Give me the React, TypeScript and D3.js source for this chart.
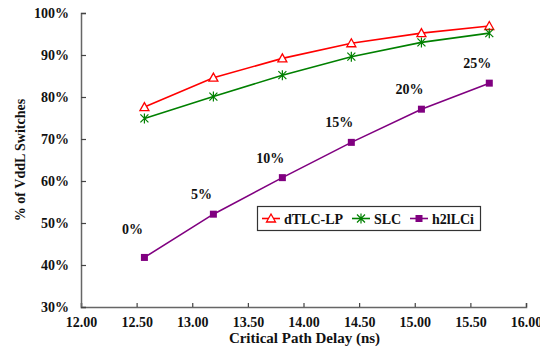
import {useEffect, useRef} from 'react';
import * as d3 from 'd3';

const delays = [12.57, 13.19, 13.81, 14.43, 15.06, 15.67];
const dtlcValues = [77.6, 84.6, 89.2, 92.8, 95.2, 96.9];
const slcValues = [74.9, 80.1, 85.2, 89.6, 93.0, 95.2];
const h2lValues = [41.8, 52.1, 60.8, 69.2, 77.1, 83.3];
const h2lLabels = ['0%', '5%', '10%', '15%', '20%', '25%'];
const xTicks = [12, 12.5, 13, 13.5, 14, 14.5, 15, 15.5, 16];
const yTicks = [30, 40, 50, 60, 70, 80, 90, 100];

const seriesNames = ['dTLC-LP', 'SLC', 'h2lLCi'];

const App = () => {
  const svgRef = useRef<SVGSVGElement | null>(null);

  useEffect(() => {
    if (!svgRef.current) return;
    const width = 540;
    const height = 347;
    const margin = {top: 13, right: 14, bottom: 40, left: 81};

    const svg = d3.select(svgRef.current);
    svg.selectAll('*').remove();

    const x = d3
      .scaleLinear()
      .domain([12, 16])
      .range([margin.left, width - margin.right]);
    const y = d3
      .scaleLinear()
      .domain([30, 100])
      .range([height - margin.bottom, margin.top]);

    // axes
    const xAxis = svg
      .append('g')
      .attr('transform', `translate(0,${height - margin.bottom})`)
      .call(
        d3
          .axisBottom(x)
          .tickValues(xTicks)
          .tickSize(-4)
          .tickPadding(10)
          .tickFormat((d) => d3.format('.2f')(d as number))
      );
    const yAxis = svg
      .append('g')
      .attr('transform', `translate(${margin.left},0)`)
      .call(
        d3
          .axisLeft(y)
          .tickValues(yTicks)
          .tickSize(-5)
          .tickPadding(12)
          .tickFormat((d) => `${d}%`)
      );
    [xAxis, yAxis].forEach((a) => {
      a.attr('font-family', null).attr('font-size', null);
      a.select('.domain').attr('stroke', '#666').attr('stroke-width', 1.5);
      a.selectAll('.tick line').attr('stroke', '#444').attr('stroke-width', 1.2);
      a.selectAll('.tick text').attr('fill', '#111');
    });

    // axis titles
    svg
      .append('text')
      .attr('x', (margin.left + width - margin.right) / 2 + 1)
      .attr('y', 343)
      .attr('text-anchor', 'middle')
      .attr('font-size', 15)
      .attr('fill', '#111')
      .text('Critical Path Delay (ns)');
    svg
      .append('text')
      .attr('transform', `translate(25,${(margin.top + height - margin.bottom) / 2}) rotate(-90)`)
      .attr('text-anchor', 'middle')
      .attr('fill', '#111')
      .text('% of VddL Switches');

    const colors = ['#ff0000', '#008000', '#800080'];
    const allValues = [dtlcValues, slcValues, h2lValues];

    const line = d3
      .line<number>()
      .x((_, i) => x(delays[i]))
      .y((d) => y(d));

    const drawMarker = (
      g: d3.Selection<SVGGElement, unknown, null, undefined>,
      kind: number,
      cx: number,
      cy: number
    ) => {
      if (kind === 0) {
        g.append('path')
          .attr('d', `M${cx},${cy - 4.5}L${cx + 4.5},${cy + 3.5}L${cx - 4.5},${cy + 3.5}Z`)
          .attr('fill', 'white')
          .attr('stroke', colors[0])
          .attr('stroke-width', 1.3);
      } else if (kind === 1) {
        const r = 4;
        g.append('path')
          .attr(
            'd',
            `M${cx - r},${cy - r}L${cx + r},${cy + r}M${cx - r},${cy + r}L${cx + r},${cy - r}M${cx},${cy - r - 1}L${cx},${cy + r + 1}`
          )
          .attr('stroke', colors[1])
          .attr('stroke-width', 1.2);
      } else {
        g.append('rect')
          .attr('x', cx - 3.5)
          .attr('y', cy - 3.5)
          .attr('width', 7)
          .attr('height', 7)
          .attr('fill', colors[2]);
      }
    };

    allValues.forEach((vals, k) => {
      svg
        .append('path')
        .datum(vals)
        .attr('fill', 'none')
        .attr('stroke', colors[k])
        .attr('stroke-width', 1.6)
        .attr('d', line);
      const g = svg.append('g');
      vals.forEach((v, i) => drawMarker(g, k, x(delays[i]), y(v)));
    });

    // percentage labels above h2lLCi
    svg
      .append('g')
      .selectAll('text')
      .data(h2lLabels)
      .join('text')
      .attr('x', (_, i) => x(delays[i]) - 12)
      .attr('y', (_, i) => y(h2lValues[i]) - (i === 0 ? 23 : 15))
      .attr('text-anchor', 'middle')
      .attr('fill', '#111')
      .text((d) => d);

    // legend
    const lg = svg.append('g');
    lg.append('rect')
      .attr('x', 257.5)
      .attr('y', 206.5)
      .attr('width', 223)
      .attr('height', 24)
      .attr('fill', 'white')
      .attr('stroke', '#333')
      .attr('stroke-width', 1.2);
    const itemX = [262, 352, 410];
    seriesNames.forEach((name, k) => {
      const lx = itemX[k];
      lg.append('line')
        .attr('x1', lx)
        .attr('x2', lx + 18)
        .attr('y1', 218.5)
        .attr('y2', 218.5)
        .attr('stroke', colors[k])
        .attr('stroke-width', 1.6);
      drawMarker(lg, k, lx + 9, 218.5);
      lg.append('text')
        .attr('x', lx + 22)
        .attr('y', 223.5)
        .attr('fill', '#111')
        .text(name);
    });
  }, []);

  return (
    <svg
      ref={svgRef}
      width={540}
      height={347}
      style={{
        position: 'absolute',
        left: 0,
        top: 0,
        background: 'white',
        fontFamily: "'Liberation Serif', 'Times New Roman', serif",
        fontWeight: 'bold',
        fontSize: '14px',
      }}
    ></svg>
  );
};

export default App;
